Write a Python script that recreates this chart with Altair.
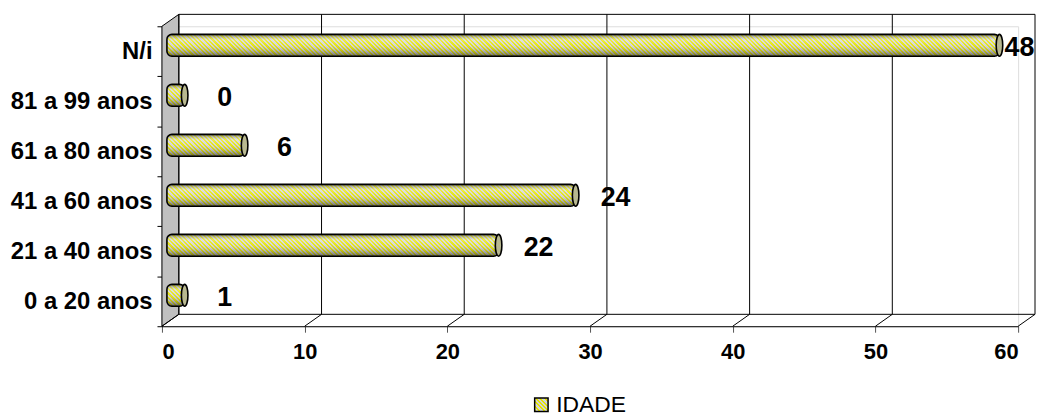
import altair as alt
import pandas as pd

# ---- data ----
categories = ["N/i", "81 a 99 anos", "61 a 80 anos", "41 a 60 anos", "21 a 40 anos", "0 a 20 anos"]
bar_values = [58.1, 1.0, 5.2, 28.4, 23.0, 1.0]      # drawn bar lengths
label_values = [48, 0, 6, 24, 22, 1]                 # printed data labels
x_ticks = [0, 10, 20, 30, 40, 50, 60]
series_name = "IDADE"

# ---- layout / style ----
W, H = 862, 302
XMAX = 60
PX = W / XMAX               # pixels per unit
DX, DY = 17, -12            # depth offset of the back wall
BAR_H = 22
BAR_START_PX = 5
MID_PX = 8.5
YELLOW = "#e4e400"
LIGHT = "#d4d4d4"
FONT = "Liberation Sans"

df = pd.DataFrame({"cat": categories, "v": bar_values, "lab": label_values})
ticks_df = pd.DataFrame({"t": x_ticks})

xscale = alt.Scale(domain=[0, XMAX], nice=False, zero=True)
xaxis = alt.Axis(values=x_ticks, grid=False, title=None, labelFont=FONT, labelFontSize=22,
                 labelFontWeight="bold", labelColor="black", labelPadding=9, tickSize=6,
                 tickColor="#555555", domainColor="black", domainWidth=1)
yscale = alt.Scale(domain=categories, paddingInner=0, paddingOuter=0)
yaxis = alt.Axis(title=None, labelFont=FONT, labelFontSize=24, labelFontWeight="bold",
                 labelColor="black", labelPadding=5, tickSize=5, tickColor="black",
                 domainColor="black", tickBand="extent", labelLimit=300)


def X(field):
    return alt.X(field, type="quantitative", scale=xscale, axis=xaxis)


def X2(field):
    return alt.X2(field)


def Y():
    return alt.Y("cat:N", sort=categories, scale=yscale, axis=yaxis)


def stripe_gradient(w, h, period=4.4):
    r = h / w
    k = (1 + r) / (1 + r * r)
    span = w + h
    dt = period / span
    stops = []
    n = int(span / period) + 2
    for i in range(n):
        t0 = i * dt
        t1 = t0 + dt / 2
        t2 = t0 + dt
        if t0 > 1:
            break
        stops.append({"offset": min(t0, 1.0), "color": YELLOW})
        stops.append({"offset": min(t1, 1.0), "color": YELLOW})
        stops.append({"offset": min(t1, 1.0), "color": LIGHT})
        stops.append({"offset": min(t2, 1.0), "color": LIGHT})
    return {"gradient": "linear", "x1": 0, "y1": 1, "x2": k, "y2": 1 - k * r, "stops": stops}


shade_gradient = {
    "gradient": "linear", "x1": 0, "y1": 0, "x2": 0, "y2": 1,
    "stops": [
        {"offset": 0.0, "color": "rgba(60,60,60,0.6)"},
        {"offset": 0.25, "color": "rgba(255,255,255,0.3)"},
        {"offset": 0.45, "color": "rgba(255,255,255,0.1)"},
        {"offset": 0.75, "color": "rgba(80,80,80,0.25)"},
        {"offset": 1.0, "color": "rgba(40,40,40,0.65)"},
    ],
}

base = alt.Chart(df).transform_calculate(
    x0=f"{BAR_START_PX / PX}",
    x1=f"datum.v + {MID_PX / PX}",
    lx=f"min(datum.v + 2.8, 59.5) + {MID_PX / PX}",
)

layers = []

# left wall (parallelogram)
wall = alt.Chart(pd.DataFrame({"a": [0]})).mark_point(
    shape=f"M0,0L{DX},{DY}L{DX},{H + DY}L0,{H}Z", size=4, filled=True,
    fill="#c0c0c0", stroke="black", strokeWidth=1, opacity=1, strokeOpacity=1, fillOpacity=1
).encode(x=alt.value(0), y=alt.value(0))
layers.append(wall)

# back wall gridlines
grid = alt.Chart(ticks_df).transform_calculate(tb=f"datum.t + {DX / PX}").mark_rule(
    color="black", strokeWidth=1).encode(
    x=X("tb"), y=alt.value(DY), y2=alt.value(H + DY))
layers.append(grid)

# floor diagonals
diag = alt.Chart(ticks_df).transform_calculate(tb=f"datum.t + {DX / PX}").mark_rule(
    color="black", strokeWidth=1).encode(
    x=X("t"), x2=X2("tb"), y=alt.value(H), y2=alt.value(H + DY))
layers.append(diag)

# back wall top and floor back edge
for yy in (DY, H + DY):
    e = alt.Chart(pd.DataFrame({"a": [0.0], "b": [float(XMAX)]})).transform_calculate(
        a2=f"datum.a + {DX / PX}", b2=f"datum.b + {DX / PX}").mark_rule(
        color="black", strokeWidth=1).encode(x=X("a2"), x2=X2("b2"), y=alt.value(yy))
    layers.append(e)

# striped bars, one per category (gradient depends on bar size)
for cat, v in zip(categories, bar_values):
    w = v * PX + MID_PX - BAR_START_PX
    g = stripe_gradient(w, BAR_H)
    b = base.transform_filter(alt.datum.cat == cat).mark_bar(
        height=BAR_H, yOffset=-6, cornerRadius=5, fill=g, strokeWidth=0
    ).encode(x=X("x0"), x2=X2("x1"), y=Y())
    layers.append(b)

# shading + outline
shade = base.mark_bar(height=BAR_H, yOffset=-6, cornerRadius=5, fill=shade_gradient,
                      stroke="black", strokeWidth=1.6).encode(x=X("x0"), x2=X2("x1"), y=Y())
layers.append(shade)

# end caps
cap = base.mark_point(shape="M0,-1A0.3,1 0 1,1 0,1A0.3,1 0 1,1 0,-1Z", size=BAR_H * BAR_H,
                      filled=True, fill="#b8b890", stroke="black", strokeWidth=1.6,
                      opacity=1, fillOpacity=1, strokeOpacity=1, yOffset=-6).encode(
    x=X("x1"), y=Y())
layers.append(cap)

# data labels
labels = base.mark_text(font=FONT, fontSize=27, fontWeight="bold", color="black",
                        align="center", baseline="middle", dy=-3).encode(
    x=X("lx"), y=Y(), text="lab:N")
layers.append(labels)

# legend
leg_df = pd.DataFrame({"name": [series_name]})
leg_sym = alt.Chart(leg_df).mark_point(shape="square", size=182, filled=True,
                                       fill=stripe_gradient(13.5, 13.5, 4.4), stroke="black",
                                       strokeWidth=1.5, opacity=1, fillOpacity=1,
                                       strokeOpacity=1).encode(
    x=alt.value(382), y=alt.value(381))
leg_txt = alt.Chart(leg_df).mark_text(font=FONT, fontSize=23, align="left", baseline="middle",
                                      color="black").encode(
    x=alt.value(397), y=alt.value(381), text="name:N")
layers += [leg_sym, leg_txt]

chart = alt.layer(*layers).properties(
    width=W, height=H,
    padding={"left": 155, "top": 17, "right": 18, "bottom": 92},
    autosize=alt.AutoSizeParams(type="none"),
).configure_view(stroke=None).configure(background="white")

chart.save("out.html", embed_options={"renderer": "svg", "actions": False})
